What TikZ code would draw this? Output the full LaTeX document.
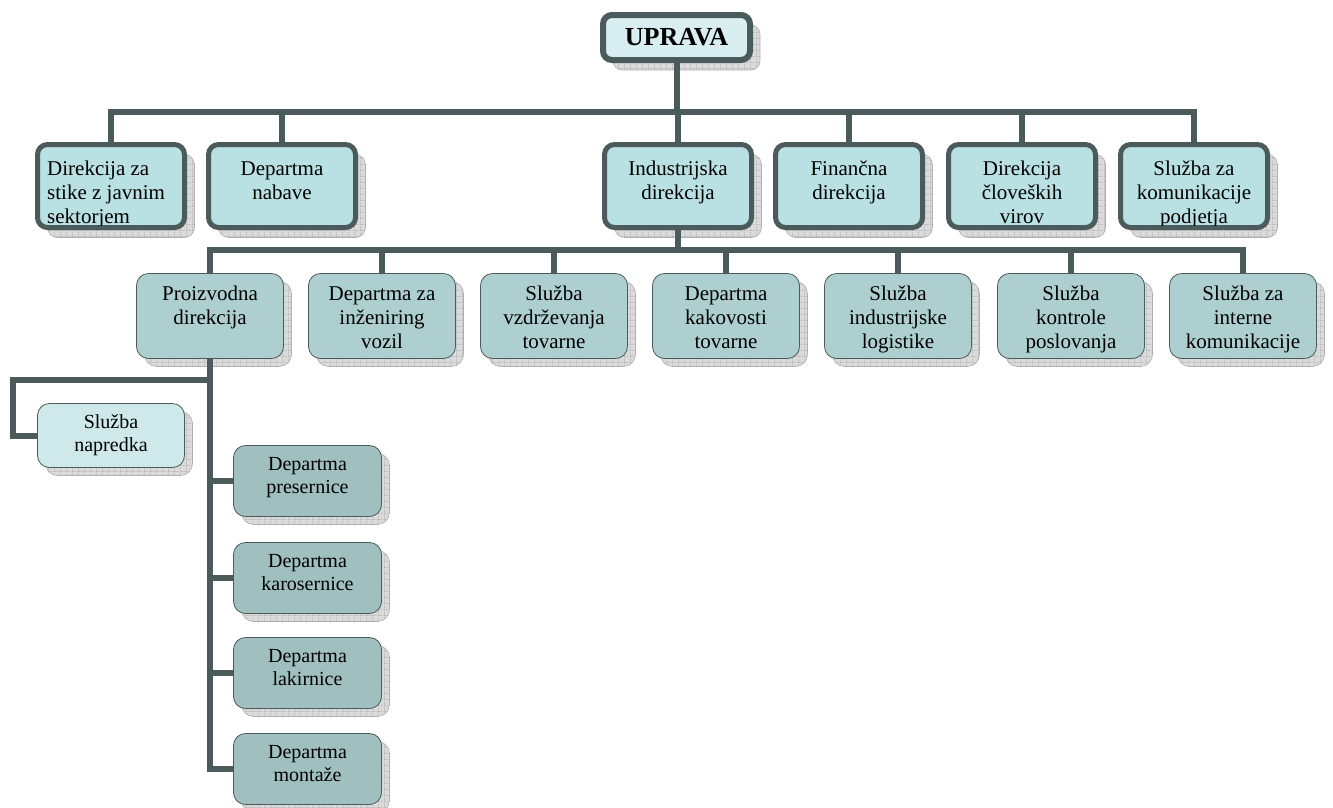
\documentclass[tikz,border=0pt]{standalone}
\usepackage{fontspec}
\setmainfont{Liberation Serif}
\usetikzlibrary{shadows,patterns.meta}
\definecolor{lnc}{HTML}{4B5A5A}
\definecolor{fup}{HTML}{D9EEF1}
\definecolor{fone}{HTML}{B9E0E3}
\definecolor{ftwo}{HTML}{AECFD0}
\definecolor{fnap}{HTML}{CFE9EB}
\definecolor{fthree}{HTML}{A0C0C0}
\tikzdeclarepattern{name=shgrid, type=uncolored,
  bounding box={(0pt,0pt) and (6pt,6pt)}, tile size={(6pt,6pt)},
  code={\draw[line width=0.7pt] (0pt,0pt) -- (6pt,0pt) (0pt,0pt) -- (0pt,6pt);}}
\tikzset{
  shad/.style={general shadow={shadow xshift=#1,shadow yshift=-#1,fill=gray!28,draw=gray!60,line width=0.6pt},
               general shadow={shadow xshift=#1,shadow yshift=-#1,pattern=shgrid,pattern color=gray!75}},
  upbox/.style={shad=10pt,draw=lnc,line width=6pt,fill=fup,rounded corners=9pt,
    minimum width=147pt,minimum height=45pt,inner sep=0pt,
    font=\fontsize{26}{30}\selectfont\bfseries},
  onebox/.style={shad=10pt,draw=lnc,line width=5pt,fill=fone,rounded corners=10pt,
    minimum width=147pt,minimum height=83pt,inner sep=0pt},
  twobox/.style={shad=8pt,draw=lnc,line width=0.8pt,fill=ftwo,rounded corners=12pt,
    minimum width=147pt,minimum height=85pt,inner sep=0pt},
  napbox/.style={shad=8pt,draw=lnc,line width=0.8pt,fill=fnap,rounded corners=12pt,
    minimum width=147pt,minimum height=64pt,inner sep=0pt},
  threebox/.style={shad=8pt,draw=lnc,line width=0.8pt,fill=fthree,rounded corners=12pt,
    minimum width=148pt,minimum height=71pt,inner sep=0pt},
  bigtxt/.style={inner sep=0pt,align=center,anchor=north,font=\fontsize{21}{24}\selectfont},
  smalltxt/.style={inner sep=0pt,align=center,anchor=north,font=\fontsize{20}{23}\selectfont},
  conn/.style={draw=lnc,line width=6pt,line join=miter}
}
\begin{document}
\begin{tikzpicture}[x=1pt,y=1pt]
\useasboundingbox (0,0) rectangle (1333,-807);

% top
\node[upbox] (up) at (676.5,-37.5) {UPRAVA};

% level 1 boxes
\node[onebox] (d1) at (111,-186) {};
\node[onebox] (d2) at (282,-186) {};
\node[onebox] (d3) at (678,-186) {};
\node[onebox] (d4) at (849,-186) {};
\node[onebox] (d5) at (1022,-186) {};
\node[onebox] (d6) at (1194,-186) {};

\begin{scope}
\clip (38,-145) rectangle (184,-225.5);
\node[bigtxt,anchor=north west,align=left] (d1t) at (47,-158.2) {\strut Direkcija za\\stike z javnim\\sektorjem};
\end{scope}
\node[bigtxt] (d2t) at (282,-158.2) {\strut Departma\\nabave};
\node[bigtxt] (d3t) at (678,-158.2) {\strut Industrijska\\direkcija};
\node[bigtxt] (d4t) at (849,-158.2) {\strut Finančna\\direkcija};
\begin{scope}
\clip (950,-145) rectangle (1094,-225.5);
\node[bigtxt] (d5t) at (1022,-158.2) {\strut Direkcija\\človeških\\virov};
\end{scope}
\begin{scope}
\clip (1122,-145) rectangle (1266,-225.5);
\node[bigtxt] (d6t) at (1194,-158.2) {\strut Služba za\\komunikacije\\podjetja};
\end{scope}

% level 2 boxes
\node[twobox] (p1) at (210,-316) {};
\node[twobox] (p2) at (382,-316) {};
\node[twobox] (p3) at (554,-316) {};
\node[twobox] (p4) at (726,-316) {};
\node[twobox] (p5) at (898,-316) {};
\node[twobox] (p6) at (1071,-316) {};
\node[twobox] (p7) at (1243,-316) {};
\node[bigtxt] (p1t) at (210,-283.2) {\strut Proizvodna\\direkcija};
\node[bigtxt] (p2t) at (382,-283.2) {\strut Departma za\\inženiring\\vozil};
\node[bigtxt] (p3t) at (554,-283.2) {\strut Služba\\vzdrževanja\\tovarne};
\node[bigtxt] (p4t) at (726,-283.2) {\strut Departma\\kakovosti\\tovarne};
\node[bigtxt] (p5t) at (898,-283.2) {\strut Služba\\industrijske\\logistike};
\node[bigtxt] (p6t) at (1071,-283.2) {\strut Služba\\kontrole\\poslovanja};
\node[bigtxt] (p7t) at (1243,-283.2) {\strut Služba za\\interne\\komunikacije};

% level 3
\node[napbox] (sn) at (111,-435.5) {};
\node[smalltxt] (snt) at (111,-411.9) {\strut Služba\\napredka};
\node[threebox] (q1) at (307.5,-481) {};
\node[threebox] (q2) at (307.5,-578) {};
\node[threebox] (q3) at (307.5,-673) {};
\node[threebox] (q4) at (307.5,-769) {};
\node[smalltxt] (q1t) at (307.5,-453.9) {\strut Departma\\presernice};
\node[smalltxt] (q2t) at (307.5,-550.9) {\strut Departma\\karosernice};
\node[smalltxt] (q3t) at (307.5,-645.9) {\strut Departma\\lakirnice};
\node[smalltxt] (q4t) at (307.5,-741.9) {\strut Departma\\montaže};

% connectors
\coordinate (bar1) at (0,-112);
\coordinate (bar2) at (0,-250);
\coordinate (nap) at (13,-380);
\draw[conn] (up.south) -- (up.south |- bar1);
\draw[conn] (d1.north) -- (d1.north |- bar1) -| (d6.north);
\foreach \n in {d2,d3,d4,d5} \draw[conn] (\n.north) -- (\n.north |- bar1);
\draw[conn] (d3.south) -- (d3.south |- bar2);
\draw[conn] (p1.north) -- (p1.north |- bar2) -| (p7.north);
\foreach \n in {p2,p3,p4,p5,p6} \draw[conn] (\n.north) -- (\n.north |- bar2);
\draw[conn] (p1.south) |- (q4.west);
\foreach \n in {q1,q2,q3} \draw[conn] (p1.south |- \n.west) -- (\n.west);
\draw[conn] (p1.south |- nap) -- (nap) |- (sn.west);
\end{tikzpicture}
\end{document}
